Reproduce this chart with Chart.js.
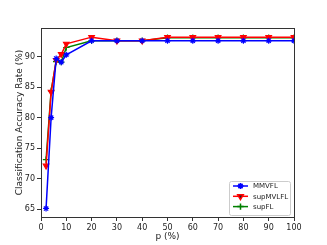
<!DOCTYPE html>
<html>
<head>
<meta charset="utf-8">
<script src="https://cdn.jsdelivr.net/npm/chart.js@4"></script>
<style>
  body { margin: 0; background: #fff; }
  #wrap { width: 327px; height: 245px; }
</style>
</head>
<body>
<div id="wrap"><canvas id="chart" width="327" height="245"></canvas></div>
<script>
// p (%) on the x axis
const pValues = [2, 4, 6, 8, 10, 20, 30, 40, 50, 60, 70, 80, 90, 100];
// accuracy (%) per method
const mmvfl    = [65.1, 80.0, 89.7, 89.1, 90.3, 92.6, 92.6, 92.6, 92.6, 92.6, 92.6, 92.6, 92.6, 92.6];
const supMvlfl = [72.1, 84.2, 89.4, 90.4, 92.1, 93.2, 92.6, 92.6, 93.2, 93.2, 93.2, 93.2, 93.2, 93.2];
const supFl    = [73.1, 84.4, 89.2, 89.1, 91.5, 92.6, 92.6, 92.6, 93.1, 93.1, 93.1, 93.1, 93.1, 93.1];
const xTicks = [0, 10, 20, 30, 40, 50, 60, 70, 80, 90, 100];
const yTicks = [65, 70, 75, 80, 85, 90];

const font = "'DejaVu Sans', sans-serif";
const toPoints = vals => vals.map((v, i) => ({ x: pValues[i], y: v }));

// matplotlib-like frame and the legend inside the plot
const framePlugin = {
    id: 'frame',
    afterDraw(chart) {
        const { ctx, chartArea: a } = chart;
        ctx.save();
        ctx.strokeStyle = '#333';
        ctx.lineWidth = 1;
        ctx.strokeRect(a.left + 0.5, a.top + 0.5, a.right - a.left, a.bottom - a.top);

        // legend box
        const bx = 229.5, by = 181.5, bw = 61, bh = 34;
        ctx.fillStyle = 'rgba(255,255,255,0.8)';
        ctx.strokeStyle = '#ccc';
        ctx.beginPath();
        ctx.roundRect(bx, by, bw, bh, 2);
        ctx.fill();
        ctx.stroke();
        ctx.font = '7px ' + font;
        ctx.textBaseline = 'middle';
        chart.data.datasets.forEach((ds, i) => {
            const y = 186 + i * 10.3;
            ctx.strokeStyle = ds.borderColor;
            ctx.lineWidth = 1.5;
            ctx.beginPath();
            ctx.moveTo(233, y);
            ctx.lineTo(248, y);
            ctx.stroke();
            Chart.helpers.drawPoint(ctx, {
                pointStyle: ds.pointStyle, radius: ds.pointRadius,
                rotation: ds.pointRotation || 0, borderWidth: 1.2
            }, 240.5, y);
            ctx.fillStyle = '#222';
            ctx.fillText(ds.label, 253, y + 0.5);
        });
        ctx.restore();
    }
};

new Chart(document.getElementById('chart'), {
    type: 'line',
    data: {
        datasets: [
            {
                label: 'MMVFL',
                data: toPoints(mmvfl),
                borderColor: '#0000ff',
                backgroundColor: '#0000ff',
                pointStyle: 'star',
                pointRadius: 3
            },
            {
                label: 'supMVLFL',
                data: toPoints(supMvlfl),
                borderColor: '#ff0000',
                backgroundColor: '#ff0000',
                pointStyle: 'triangle',
                pointRotation: 180,
                pointRadius: 3.2
            },
            {
                label: 'supFL',
                data: toPoints(supFl),
                borderColor: '#008000',
                backgroundColor: '#008000',
                pointStyle: 'cross',
                pointRadius: 3.2
            }
        ].map(ds => Object.assign(ds, {
            borderWidth: 1.5,
            pointBorderWidth: 1.2,
            pointBorderColor: ds.borderColor,
            fill: false,
            tension: 0
        }))
    },
    options: {
        responsive: false,
        animation: false,
        layout: { padding: { top: 28, right: 33, left: 0, bottom: 0 } },
        plugins: { legend: { display: false }, tooltip: { enabled: false } },
        scales: {
            x: {
                type: 'linear',
                min: 0, max: 100,
                afterBuildTicks: s => { s.ticks = xTicks.map(v => ({ value: v })); },
                afterFit: s => { s.height = 28; },
                grid: { drawOnChartArea: false, drawTicks: true, tickLength: 4, color: '#333' },
                border: { display: false },
                ticks: { font: { family: font, size: 8 }, color: '#222', padding: 2, maxRotation: 0 },
                title: { display: true, text: 'p (%)', font: { family: font, size: 9 }, color: '#222', padding: { top: 0, bottom: 2.5 } }
            },
            y: {
                min: 63.7, max: 94.7,
                afterBuildTicks: s => { s.ticks = yTicks.map(v => ({ value: v })); },
                afterFit: s => { s.width = 41; },
                grid: { drawOnChartArea: false, drawTicks: true, tickLength: 4, color: '#333' },
                border: { display: false },
                ticks: { font: { family: font, size: 8 }, color: '#222', padding: 2 },
                title: { display: true, text: 'Classification Accuracy Rate (%)', font: { family: font, size: 9 }, color: '#222', padding: { top: 14, bottom: 0 } }
            }
        }
    },
    plugins: [framePlugin]
});
</script>
</body>
</html>
